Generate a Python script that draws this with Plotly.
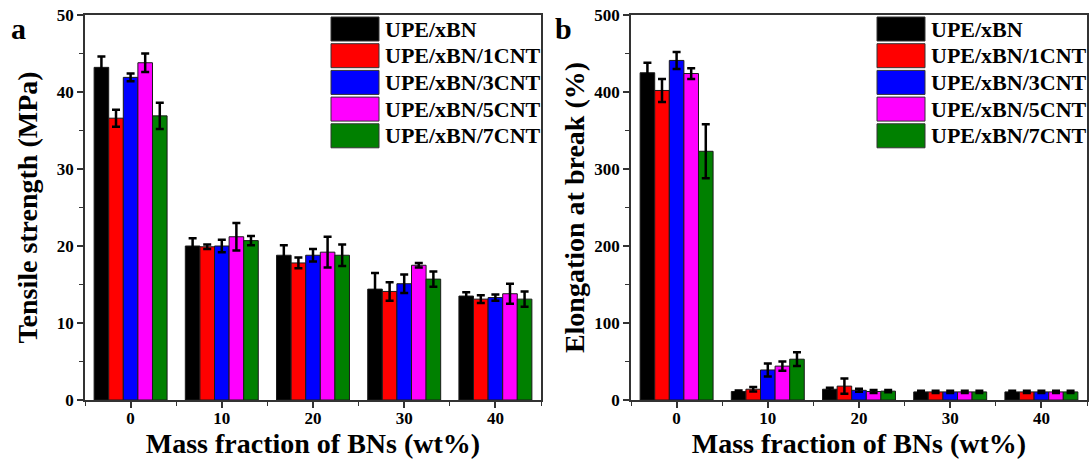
import plotly.graph_objects as go

W, H = 1089, 468

bn_fraction = [0, 10, 20, 30, 40]
series_names = ["UPE/xBN", "UPE/xBN/1CNT", "UPE/xBN/3CNT", "UPE/xBN/5CNT", "UPE/xBN/7CNT"]
series_colors = ["#000000", "#ff0000", "#0000ff", "#ff00ff", "#008000"]

# Tensile strength (MPa)
ts_upe = [43.2, 20.0, 18.8, 14.4, 13.5]
ts_1cnt = [36.6, 19.9, 17.8, 14.1, 13.1]
ts_3cnt = [41.9, 20.0, 18.8, 15.1, 13.3]
ts_5cnt = [43.8, 21.2, 19.2, 17.5, 13.8]
ts_7cnt = [36.9, 20.7, 18.8, 15.7, 13.1]
ts_err_upe = [1.4, 1.0, 1.3, 2.1, 0.5]
ts_err_1cnt = [1.1, 0.3, 0.7, 1.2, 0.5]
ts_err_3cnt = [0.5, 0.8, 0.8, 1.2, 0.4]
ts_err_5cnt = [1.2, 1.8, 2.0, 0.3, 1.3]
ts_err_7cnt = [1.7, 0.6, 1.4, 1.0, 1.0]

# Elongation at break (%)
eb_upe = [425, 11, 14, 10.5, 10.5]
eb_1cnt = [402, 14, 18, 10.5, 10.5]
eb_3cnt = [441, 39, 12.6, 10.5, 10.5]
eb_5cnt = [424, 44, 11, 10.5, 10.5]
eb_7cnt = [323, 53, 11.5, 10.5, 10.5]
eb_err_upe = [13, 1.5, 2, 1.5, 1.5]
eb_err_1cnt = [15, 3, 10, 1.5, 1.5]
eb_err_3cnt = [11, 8.5, 2, 1.5, 1.5]
eb_err_5cnt = [7, 6, 2, 1.5, 1.5]
eb_err_7cnt = [35, 9, 1.5, 1.5, 1.5]

x_tick_vals = [0, 10, 20, 30, 40]
x_tick_text = ["0", "10", "20", "30", "40"]
ts_ticks = [0, 10, 20, 30, 40, 50]
eb_ticks = [0, 100, 200, 300, 400, 500]

ts_vals = [ts_upe, ts_1cnt, ts_3cnt, ts_5cnt, ts_7cnt]
ts_errs = [ts_err_upe, ts_err_1cnt, ts_err_3cnt, ts_err_5cnt, ts_err_7cnt]
eb_vals = [eb_upe, eb_1cnt, eb_3cnt, eb_5cnt, eb_7cnt]
eb_errs = [eb_err_upe, eb_err_1cnt, eb_err_3cnt, eb_err_5cnt, eb_err_7cnt]

FONT = "Liberation Serif, Times New Roman, serif"


def px(x):
    return x / W


def py(y):
    return 1 - y / H


fig = go.Figure()
for i, name in enumerate(series_names):
    fig.add_trace(go.Bar(
        x=bn_fraction, y=ts_vals[i], name=name, xaxis="x", yaxis="y",
        marker=dict(color=series_colors[i], line=dict(color="#1a1a1a", width=1)),
        error_y=dict(type="data", array=ts_errs[i], visible=True, color="#000000",
                     thickness=2.5, width=4),
        showlegend=False,
    ))
for i, name in enumerate(series_names):
    fig.add_trace(go.Bar(
        x=bn_fraction, y=eb_vals[i], name=name, xaxis="x2", yaxis="y2",
        marker=dict(color=series_colors[i], line=dict(color="#1a1a1a", width=1)),
        error_y=dict(type="data", array=eb_errs[i], visible=True, color="#000000",
                     thickness=2.5, width=4),
        showlegend=False,
    ))

dom_a = [px(85), px(541)]
dom_b = [px(631), px(1087)]
dom_y = [py(400), py(15)]

tick_font = dict(family=FONT, size=17, color="#000000", weight="bold")
title_font = dict(family=FONT, size=28, color="#000000", weight="bold")


def xaxis_cfg(domain, anchor):
    return dict(
        domain=domain, anchor=anchor, range=[-5, 45],
        tickvals=x_tick_vals, ticktext=x_tick_text,
        ticks="outside", ticklen=6, tickwidth=1.5, tickcolor="#333333",
        ticklabelstandoff=-4, ticklabeloverflow="allow",
        minor=dict(dtick=5, tick0=5, ticks="outside", ticklen=4, tickwidth=1.2,
                   tickcolor="#333333", showgrid=False),
        showline=True, linecolor="#333333", linewidth=1.5, mirror=True,
        showgrid=False, zeroline=False, tickfont=tick_font,
        title=dict(text="Mass fraction of BNs (wt%)", font=title_font, standoff=0),
        automargin=False,
    )


def yaxis_cfg(domain, anchor, rng, ticks, title, standoff):
    step = ticks[1] - ticks[0]
    return dict(
        domain=domain, anchor=anchor, range=rng,
        tickvals=ticks, ticks="outside", ticklen=6, tickwidth=1.5, tickcolor="#333333",
        ticklabeloverflow="allow",
        minor=dict(dtick=step / 2, ticks="outside", ticklen=4, tickwidth=1.2,
                   tickcolor="#333333", showgrid=False),
        showline=True, linecolor="#333333", linewidth=1.5, mirror=True,
        showgrid=False, zeroline=False, tickfont=tick_font,
        title=dict(text=title, font=title_font, standoff=standoff),
        automargin=False,
    )


shapes = []
annotations = []
for right_px in (541, 1087):
    for i, name in enumerate(series_names):
        top = 17 + i * 26.7
        shapes.append(dict(
            type="rect", xref="paper", yref="paper",
            x0=px(right_px - 210), x1=px(right_px - 162),
            y0=py(top + 24), y1=py(top),
            fillcolor=series_colors[i], line=dict(color="#333333", width=1),
        ))
        annotations.append(dict(
            text=name, xref="paper", yref="paper",
            x=px(right_px - 158), y=py(top + 12), xanchor="left", yanchor="middle",
            showarrow=False, font=dict(family=FONT, size=22, color="#000000", weight="bold"),
        ))

annotations.append(dict(text="a", xref="paper", yref="paper", x=px(18.5), y=py(28),
                        xanchor="center", yanchor="middle", showarrow=False,
                        font=dict(family=FONT, size=30, color="#000000", weight="bold")))
annotations.append(dict(text="b", xref="paper", yref="paper", x=px(563), y=py(28),
                        xanchor="center", yanchor="middle", showarrow=False,
                        font=dict(family=FONT, size=30, color="#000000", weight="bold")))

fig.update_layout(
    width=W, height=H,
    margin=dict(l=0, r=0, t=0, b=0),
    paper_bgcolor="#ffffff", plot_bgcolor="#ffffff",
    barmode="group", bargap=0.2, bargroupgap=0,
    xaxis=xaxis_cfg(dom_a, "y"),
    yaxis=yaxis_cfg(dom_y, "x", [0, 50], ts_ticks, "Tensile strength (MPa)", 11),
    xaxis2=xaxis_cfg(dom_b, "y2"),
    yaxis2=yaxis_cfg(dom_y, "x2", [0, 500], eb_ticks, "Elongation at break (%)", 2),
    shapes=shapes, annotations=annotations,
    showlegend=False,
)

fig.write_html(
    "out.html",
    config={"displayModeBar": False},
    post_script="document.body.style.margin='0';document.body.style.overflow='hidden';",
)
